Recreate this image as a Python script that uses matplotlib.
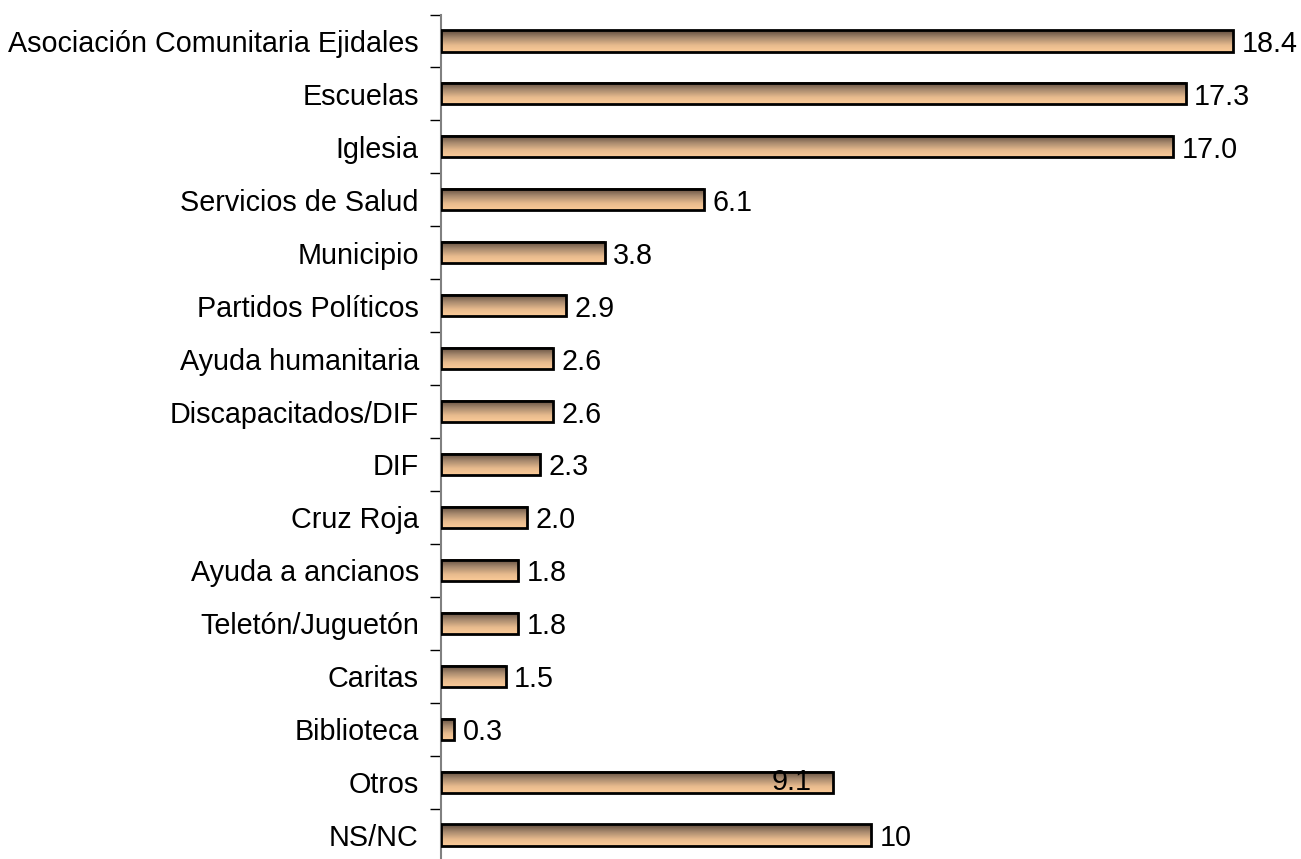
import numpy as np
import matplotlib.pyplot as plt
from matplotlib.patches import Rectangle
from matplotlib.colors import LinearSegmentedColormap

categories = ["Asociación Comunitaria Ejidales", "Escuelas", "Iglesia", "Servicios de Salud",
              "Municipio", "Partidos Políticos", "Ayuda humanitaria", "Discapacitados/DIF",
              "DIF", "Cruz Roja", "Ayuda a ancianos", "Teletón/Juguetón", "Caritas",
              "Biblioteca", "Otros", "NS/NC"]
values = [18.4, 17.3, 17.0, 6.1, 3.8, 2.9, 2.6, 2.6, 2.3, 2.0, 1.8, 1.8, 1.5, 0.3, 9.1, 10]
labels = ["18.4", "17.3", "17.0", "6.1", "3.8", "2.9", "2.6", "2.6", "2.3", "2.0",
          "1.8", "1.8", "1.5", "0.3", "9.1", "10"]

plt.rcParams['font.family'] = ['Liberation Sans', 'DejaVu Sans']

fig = plt.figure(figsize=(13.01, 8.59), dpi=100)
ax = fig.add_axes([441 / 1301, -2.5 / 859, 860.8 / 1301, 847 / 859])

n = len(categories)

# vertical gradient: dark brown on top, light peach at the bottom
cmap = LinearSegmentedColormap.from_list(
    "peach", [(0, "#5e4a3c"), (0.35, "#a88a6e"), (0.7, "#e8bb8e"), (1, "#fccb98")])
grad = np.linspace(0, 1, 64).reshape(-1, 1)
h = 0.4
for i, v in enumerate(values):
    ax.imshow(grad, cmap=cmap, aspect='auto', extent=(0, v, i + h / 2, i - h / 2),
              interpolation='bilinear', zorder=2)
    ax.add_patch(Rectangle((0, i - h / 2), v, h, fill=False, edgecolor='black', lw=2, zorder=3))
    if labels[i] == "9.1":
        # this label sits inside the end of its bar in the original
        ax.text(v - 0.5, i - 0.05, labels[i], ha='right', va='center_baseline',
                fontsize=20.7, zorder=4)
    else:
        ax.text(v + 0.2, i, labels[i], ha='left', va='center_baseline', fontsize=20.7, zorder=4)

ax.set_xlim(0, 20)
ax.set_ylim(n - 0.5, -0.5)

ax.set_yticks(range(n))
ax.set_yticklabels(categories, fontsize=20.7)
ax.set_yticks(np.arange(-0.5, n, 1), minor=True)
ax.tick_params(axis='y', which='major', length=0, pad=16)
ax.tick_params(axis='y', which='minor', length=8, width=1, color='black')
ax.set_xticks([])
for s in ['top', 'right', 'bottom']:
    ax.spines[s].set_visible(False)
ax.spines['left'].set_color('#808080')
ax.spines['left'].set_linewidth(1.5)

fig.savefig("out.png", dpi=100)
